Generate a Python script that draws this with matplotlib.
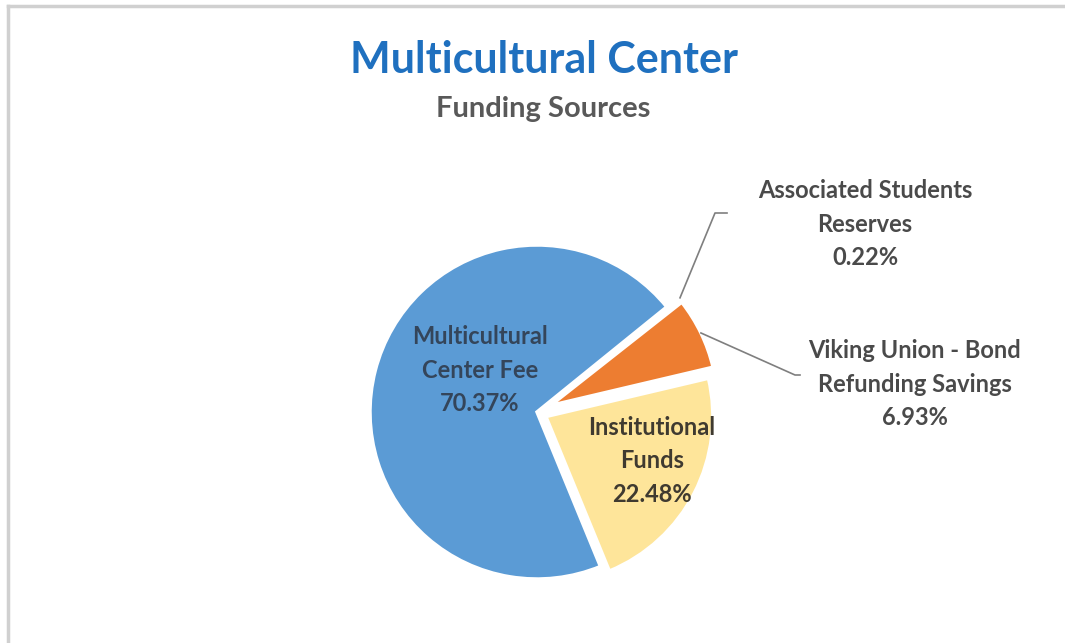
import numpy as np
import matplotlib
matplotlib.use('Agg')
import matplotlib.pyplot as plt
from matplotlib.lines import Line2D

# funding shares, in the order they are drawn clockwise from the top-right
names = ['Associated Students\nReserves', 'Viking Union - Bond\nRefunding Savings',
         'Institutional\nFunds', 'Multicultural\nCenter Fee']
shares = [0.22, 6.93, 22.48, 70.37]
colors = ['#f4b183', '#ed7d31', '#fee59a', '#5b9bd5']

W, H = 1065, 643
fig = plt.figure(figsize=(W / 100, H / 100), dpi=100)
ax = fig.add_axes([0, 0, 1, 1])
ax.axis('off')

# thin grey frame at the top and left edges
fig.add_artist(Line2D([8 / W, 1], [1 - 6 / H, 1 - 6 / H], color='#d0d0d0', lw=2.5))
fig.add_artist(Line2D([8 / W, 8 / W], [0, 1 - 6 / H], color='#d0d0d0', lw=2.5))

# pie drawn in pixel-like data units (explode is in data units too)
cx, cy, r = 537, H - 412, 167
wedges, _ = ax.pie(shares, colors=colors, startangle=39, counterclock=False,
                   explode=[16, 15, 10, 0], center=(cx, cy), radius=r,
                   wedgeprops=dict(edgecolor='white', linewidth=2.5))
ax.set_xlim(0, W)
ax.set_ylim(0, H)
ax.set_aspect('equal')

fam = ['Lato', 'DejaVu Sans']
labels = [f'{n}\n{v:.2f}%' for n, v in zip(names, shares)]

# inside labels
ax.text(480, H - 370, labels[3], ha='center', va='center', fontsize=17,
        fontweight='bold', color='#34455a', family=fam, linespacing=1.55)
ax.text(652, H - 461, labels[2], ha='center', va='center', fontsize=17,
        fontweight='bold', color='#3f3a30', family=fam, linespacing=1.55)

# outside labels with leader lines
def edge_point(w):
    ang = np.deg2rad((w.theta1 + w.theta2) / 2)
    x0, y0 = w.center
    return x0 + w.r * np.cos(ang), y0 + w.r * np.sin(ang)

px, py = edge_point(wedges[0])
ax.plot([px, 715, 727], [py, H - 213, H - 213], color='#7f7f7f', lw=1.2)
ax.text(865, H - 224, labels[0], ha='center', va='center', fontsize=17,
        fontweight='bold', color='#4a4a4a', family=fam, linespacing=1.55)

px, py = edge_point(wedges[1])
ax.plot([px, 795, 800], [py, H - 375, H - 375], color='#7f7f7f', lw=1.2)
ax.text(915, H - 384, labels[1], ha='center', va='center', fontsize=17,
        fontweight='bold', color='#4a4a4a', family=fam, linespacing=1.55)

# titles
ax.text(544, H - 60, 'Multicultural Center', ha='center', va='center',
        fontsize=31, fontweight='bold', color='#1f70bf', family=fam)
ax.text(543, H - 109, 'Funding Sources', ha='center', va='center',
        fontsize=21, fontweight='bold', color='#595959', family=fam)

fig.savefig('out.png', dpi=100)
